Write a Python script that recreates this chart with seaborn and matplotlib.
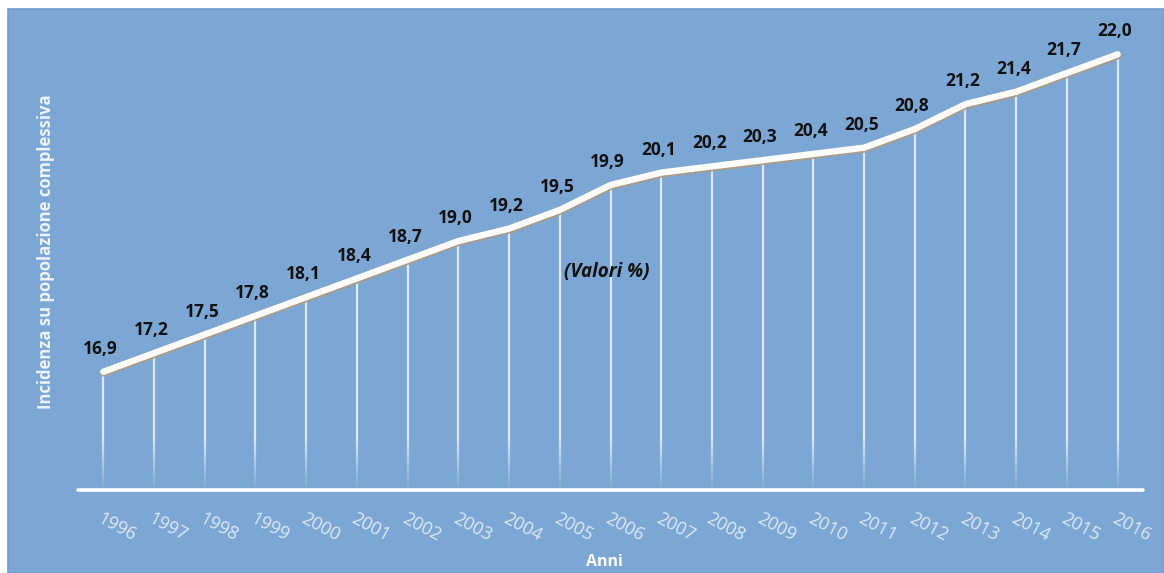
import numpy as np
import pandas as pd
import matplotlib
matplotlib.use("Agg")
import matplotlib.pyplot as plt
import matplotlib.patheffects as pe
from matplotlib.patches import Rectangle
import seaborn as sns

years = [str(y) for y in range(1996, 2017)]
values = [16.9, 17.2, 17.5, 17.8, 18.1, 18.4, 18.7, 19.0, 19.2, 19.5, 19.9,
          20.1, 20.2, 20.3, 20.4, 20.5, 20.8, 21.2, 21.4, 21.7, 22.0]

BG = "#7ca7d4"
sns.set_theme(style="white")
plt.rcParams["font.family"] = ["Open Sans", "DejaVu Sans"]

df = pd.DataFrame({"pos": np.arange(len(years)), "val": values})

fig = plt.figure(figsize=(11.64, 5.73), dpi=100)
fig.patch.set_facecolor("white")
fig.add_artist(Rectangle((8 / 1164, 0), 1 - 8 / 1164, 1 - 9 / 573,
                         transform=fig.transFigure, facecolor=BG,
                         edgecolor="#6f9bd0", linewidth=1.2, zorder=0))

ax = fig.add_axes([78 / 1164, (573 - 490) / 573, (1143 - 78) / 1164, (490 - 17) / 573])
ax.set_facecolor("none")
ymin, ymax = 15.0, 22.6
ax.set_xlim(-0.5, len(years) - 0.5)
ax.set_ylim(ymin, ymax)

# drop lines from each point to the baseline
ax.vlines(df["pos"], ymin, df["val"], color="white", linewidth=1.6, alpha=0.75, zorder=1)

# fade the drop lines out towards the baseline
fade = np.zeros((100, 1, 4))
fade[..., :3] = matplotlib.colors.to_rgb(BG)
fade[:, 0, 3] = np.linspace(1.0, 0.0, 100)
ax.imshow(fade, extent=(-0.5, len(years) - 0.5, ymin, ymin + 0.85),
          origin="lower", aspect="auto", zorder=2, interpolation="bilinear")

sns.lineplot(data=df, x="pos", y="val", ax=ax, color="white", linewidth=4.6,
             zorder=4, legend=False,
             path_effects=[pe.SimpleLineShadow(offset=(0.4, -1.3), shadow_color="#b09a80", alpha=0.9),
                           pe.Normal()])

for x, v in zip(df["pos"], values):
    ax.annotate(f"{v:.1f}".replace(".", ","), (x, v), xytext=(-2, 10),
                textcoords="offset points", ha="center", va="bottom",
                fontsize=12.5, fontweight="bold", color="#111111", zorder=5)

ax.axhline(ymin, color="white", linewidth=2.6, zorder=3, clip_on=False)

for s in ax.spines.values():
    s.set_visible(False)
ax.set_yticks([])
ax.set_xticks(df["pos"])
ax.set_xticklabels(years, rotation=-28, ha="left", rotation_mode="anchor",
                   fontsize=13, color="#dce8f5")
ax.tick_params(axis="x", length=0, pad=14)
ax.set_xlabel("")
ax.set_ylabel("")

fig.text(604 / 1164, 1 - 562 / 573, "Anni", ha="center", va="center",
         fontsize=11.5, fontweight="bold", color="white")
fig.text(46 / 1164, 1 - 252 / 573, "Incidenza su popolazione complessiva",
         rotation=90, ha="center", va="center", fontsize=12,
         fontweight="bold", color="#eef3fa")
fig.text(607 / 1164, 1 - 272 / 573, "(Valori %)", ha="center", va="center",
         fontsize=13.5, fontweight="bold", fontstyle="italic", color="#111111")

fig.savefig("out.png", dpi=100, facecolor=fig.get_facecolor())
